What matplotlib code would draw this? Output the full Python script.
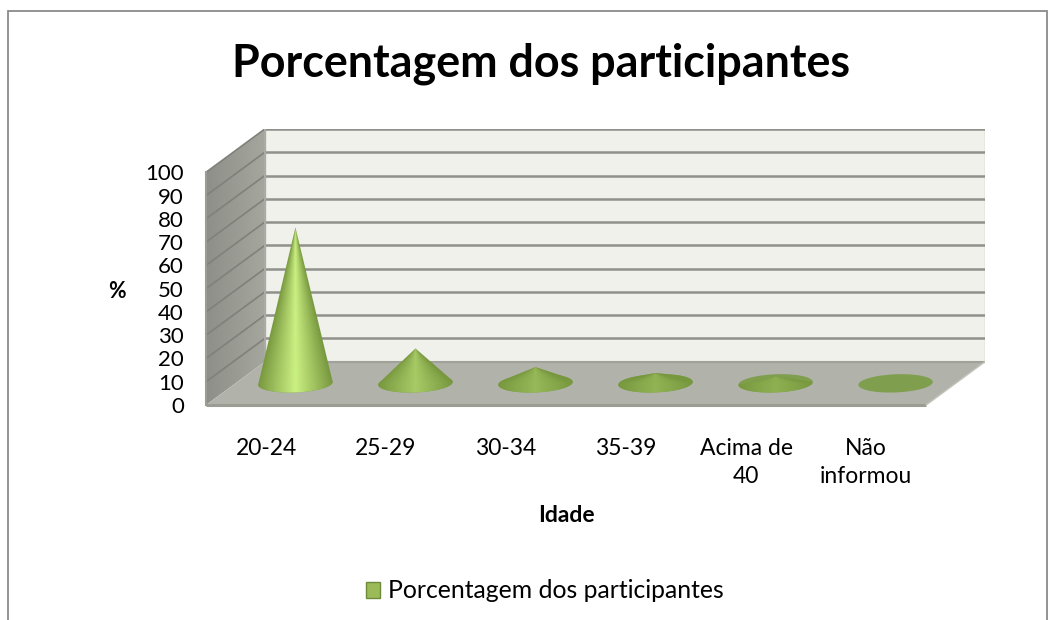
import numpy as np
import matplotlib
matplotlib.use("Agg")
import matplotlib.pyplot as plt
from matplotlib.colors import LinearSegmentedColormap, to_rgb
from matplotlib.patches import Patch, Polygon, Rectangle

plt.rcParams['font.family'] = ['Lato', 'DejaVu Sans']

categories = ['20-24', '25-29', '30-34', '35-39', 'Acima de\n40', 'Não\ninformou']
values = [67, 15, 7, 4.5, 3, 0]
y_ticks = [0, 10, 20, 30, 40, 50, 60, 70, 80, 90, 100]

# depth of the fake 3d box, in data units
DX = 0.49
DY = 18.6
RX = 0.31   # cone base radius
RY = 3.9
TILT = 2.0  # base ellipses lean up to the right

fig = plt.figure(figsize=(10.57, 6.2), dpi=100)
fig.patches.append(Rectangle((8 / 1057, -0.02), 1039 / 1057, (620 - 11) / 620 + 0.02,
                             transform=fig.transFigure, fc='white', ec='#8a8a8a', lw=1.3,
                             zorder=-1))

ax = fig.add_axes([206 / 1057, (620 - 405) / 620, 779 / 1057, 276 / 620])
ax.patch.set_visible(False)
n = len(categories)
for s in ax.spines.values():
    s.set_visible(False)


def shaded(poly, img, extent, cmap, zorder):
    patch = Polygon(poly, closed=True, fc='none', ec='none', transform=ax.transData)
    ax.add_patch(patch)
    im = ax.imshow(img, extent=extent, aspect='auto', cmap=cmap, vmin=0, vmax=1,
                   origin='lower', interpolation='bilinear', zorder=zorder)
    im.set_clip_path(patch)


# walls and floor
ax.add_patch(Polygon([(DX, DY), (n + DX, DY), (n + DX, 100 + DY), (DX, 100 + DY)],
                     fc='#eff1ea', ec='#c4c6c0', lw=1, zorder=1))
wall_cmap = LinearSegmentedColormap.from_list('wall', ['#8d8f88', '#a5a79f'])
shaded([(0, 0), (DX, DY), (DX, 100 + DY), (0, 100)],
       np.linspace(0, 1, 50).reshape(1, -1), [0, DX, 0, 100 + DY], wall_cmap, 1)
ax.add_patch(Polygon([(0, 0), (n, 0), (n + DX, DY), (DX, DY)],
                     fc='#b1b3aa', ec='none', zorder=2))
ax.plot([0, n], [0, 0], color='#9b9d95', lw=2.2, zorder=3, solid_capstyle='butt', clip_on=False)
ax.plot([DX, n + DX], [DY, DY], color='#a0a29a', lw=1.5, zorder=3)
ax.plot([0, 0], [0, 100], color='#9b9d95', lw=1.5, zorder=3, clip_on=False)
ax.plot([DX, DX], [DY, 100 + DY], color='#a9aba4', lw=1.5, zorder=3)
ax.plot([n, n + DX], [0, DY], color='#c2c4bc', lw=1, zorder=3)

# gridlines on the back wall and left wall
for v in y_ticks[1:]:
    ax.plot([DX, n + DX], [v + DY, v + DY], color='#8f918a', lw=1.8, zorder=2,
            solid_capstyle='butt')
    ax.plot([0, DX], [v, v + DY], color='#7f817a', lw=1.2, zorder=2)

# cones, shading follows the slope towards the apex
dark = np.array(to_rgb('#78983f'))
light = np.array(to_rgb('#cbf082'))
theta = np.linspace(0, 2 * np.pi, 200)
for i, v in enumerate(values):
    xc = i + 0.5 + DX / 2
    yc = DY / 2
    ex = xc + RX * np.cos(theta)
    ey = yc + RY * np.sin(theta) + TILT * RX * np.cos(theta)
    ax.add_patch(Polygon(np.column_stack([ex, ey]), fc='#7f9f4e', ec='none', zorder=4))
    if v <= 0:
        continue
    t0 = np.arcsin(RY / v) if v > RY else 0.0
    arc = np.linspace(2 * np.pi + t0, np.pi - t0, 100)
    px = xc + RX * np.cos(arc)
    py = yc + RY * np.sin(arc) + TILT * RX * np.cos(arc)
    poly = [(xc, yc + v)] + list(zip(px, py))
    mix = min(1.0, 0.2 + v / 40)
    mid = dark + (light - dark) * mix
    cmap = LinearSegmentedColormap.from_list('cone', [dark, mid, dark], N=128)
    gx = np.linspace(xc - RX, xc + RX, 120)
    gy = np.linspace(yc - RY - 1, yc + v, 160)
    mx, my = np.meshgrid(gx, gy)
    half = RX * np.clip(1 - (my - yc) / v, 0.005, 1)
    img = np.clip(0.5 + 0.5 * (mx - xc) / half, 0, 1)
    shaded(poly, img, [xc - RX, xc + RX, yc - RY - 1, yc + v], cmap, 5)

ax.set_xlim(0, n + DX)
ax.set_ylim(0, 100 + DY)
ax.set_xticks(np.arange(n) + 0.5)
ax.set_xticklabels(categories, fontsize=16.5, linespacing=1.45)
ax.set_yticks(y_ticks)
ax.set_yticklabels([str(t) for t in y_ticks], fontsize=16)
ax.tick_params(axis='x', length=0, pad=23.5)
ax.tick_params(axis='y', length=0, pad=16)
ax.set_xlabel('Idade', fontsize=16.5, fontweight='bold', x=(n / 2) / (n + DX), labelpad=13)
ax.set_ylabel('%', fontsize=15.5, fontweight='bold', rotation=0, labelpad=20, y=0.41,
              va='center')

fig.text(541 / 1057, (620 - 64) / 620, 'Porcentagem dos participantes', fontsize=32.3,
         fontweight='bold', ha='center', va='center', color='black')

leg_handle = Patch(fc='#9bbb59', ec='#6f8a3a', label='Porcentagem dos participantes')
fig.legend(handles=[leg_handle], loc='center', bbox_to_anchor=(544.5 / 1057, (620 - 591) / 620),
           frameon=False, fontsize=17.8, handlelength=0.6, handleheight=0.6,
           handletextpad=0.3)

fig.savefig('out.png', dpi=100)
